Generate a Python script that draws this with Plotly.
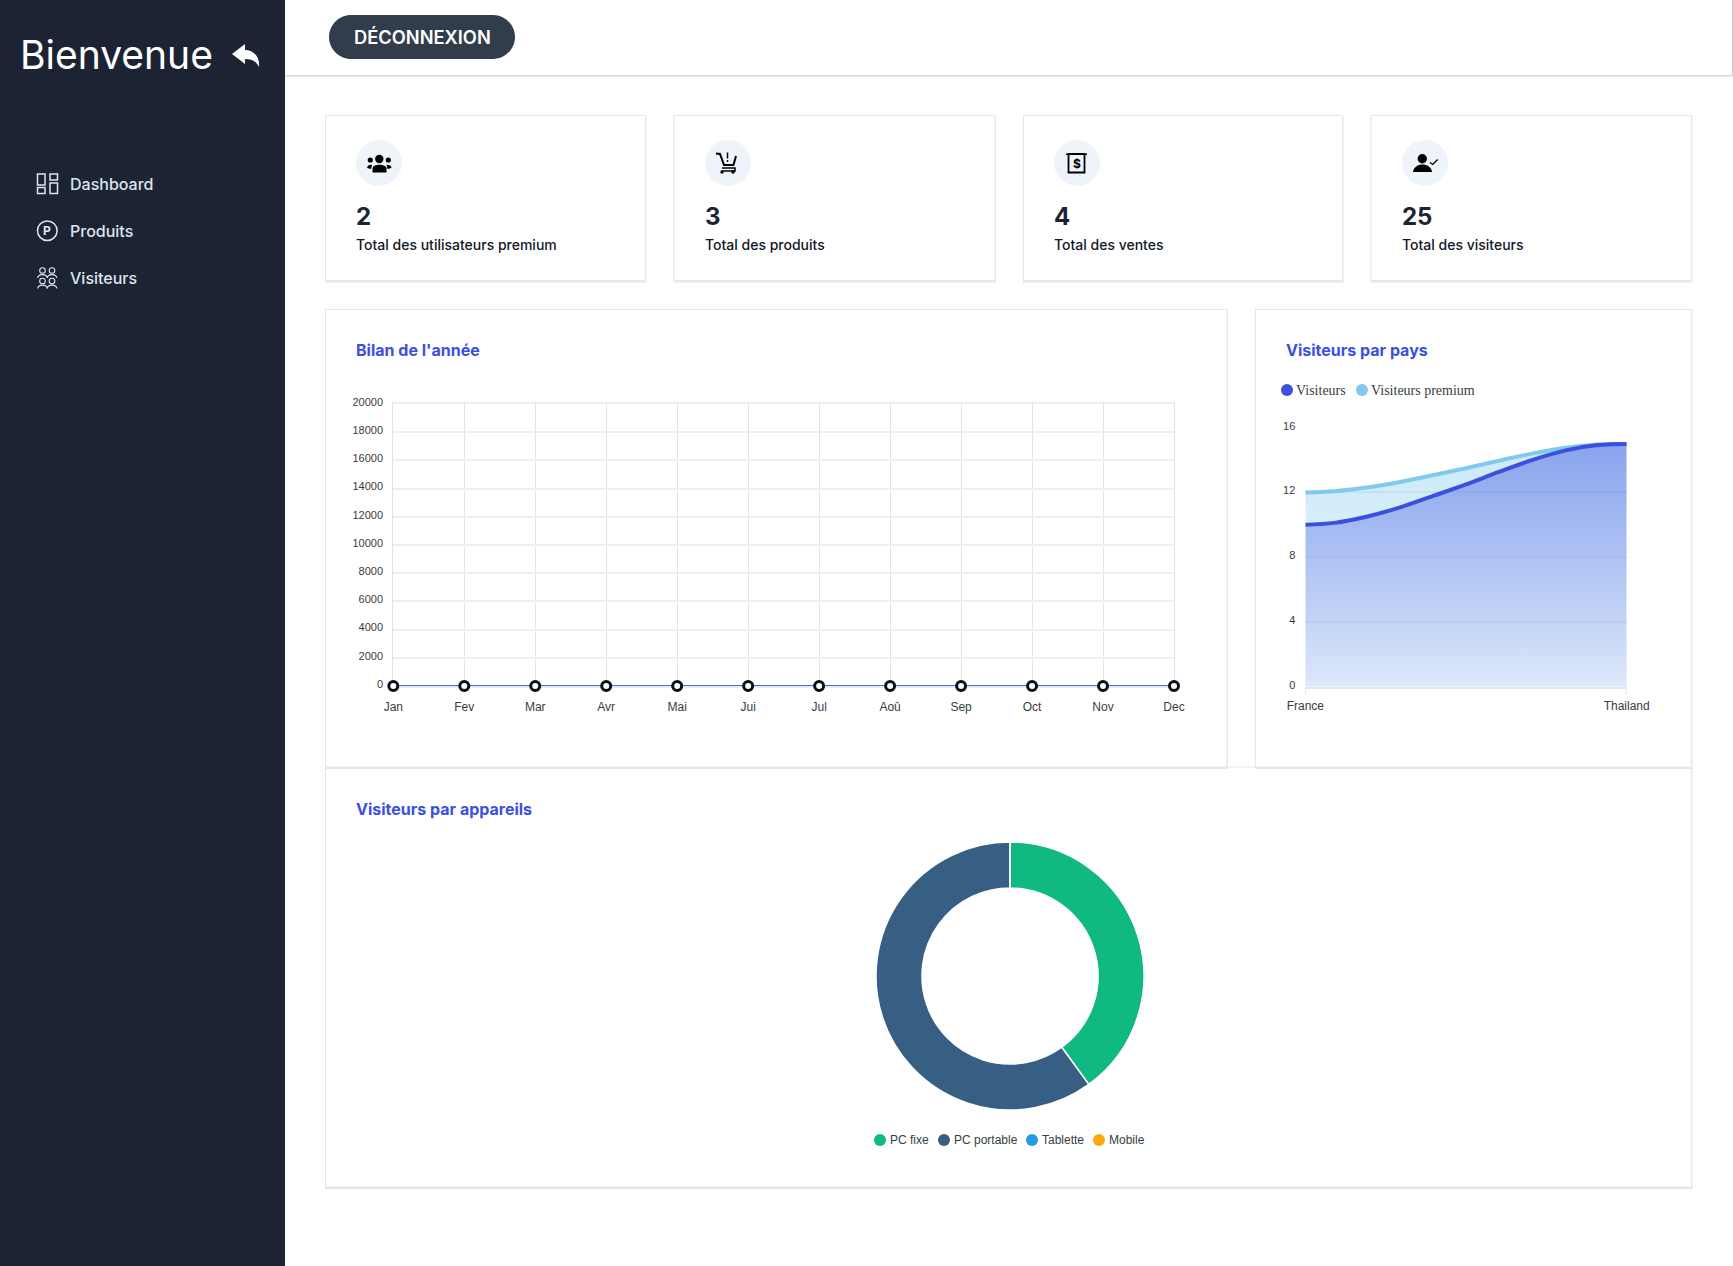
import plotly.graph_objects as go

W, H = 1733, 1266

months = ['Jan', 'Fev', 'Mar', 'Avr', 'Mai', 'Jui', 'Jul', 'Aoû', 'Sep', 'Oct', 'Nov', 'Dec']
bilan = [0, 0, 0, 0, 0, 0, 0, 0, 0, 0, 0, 0]
bilan_ticks = [0, 2000, 4000, 6000, 8000, 10000, 12000, 14000, 16000, 18000, 20000]

pays = ['France', 'Thailand']
pays_ticks = [0, 4, 8, 12, 16]
curve_pos = [0, 0.09, 0.19, 0.295, 0.4, 0.5, 0.6, 0.705, 0.81, 0.91, 1]
visiteurs = [10, 10.12, 10.5, 11.08, 11.8, 12.5, 13.25, 14.0, 14.6, 14.93, 15]
visiteurs_premium = [12, 12.07, 12.3, 12.65, 13.08, 13.5, 13.95, 14.4, 14.76, 14.96, 15]

appareils = ['PC fixe', 'PC portable', 'Tablette', 'Mobile']
appareils_values = [10, 15, 0, 0]

card_values = ['2', '3', '4', '25']
card_labels = ['Total des utilisateurs premium', 'Total des produits', 'Total des ventes', 'Total des visiteurs']
menu = ['Dashboard', 'Produits', 'Visiteurs']

DARK = '#1C2434'
BLUE = '#3C50E0'
SKY = '#80CAEE'
STROKE = '#E2E8F0'
GRAY = '#EFF4FB'
AXIS_TXT = '#373D3F'
DEVICE_COLORS = ['#10B981', '#375E83', '#259AE6', '#FFA70B']


def fx(x):
    return x / W


def fy(y):
    return 1 - y / H


def svg(d):
    # path in page pixels -> paper coords
    out, is_x = [], True
    for tok in d.split():
        if tok.isalpha():
            out.append(tok)
        else:
            out.append(str(fx(float(tok)) if is_x else fy(float(tok))))
            is_x = not is_x
    return ' '.join(out)


shapes = []
notes = []


def rect(x0, y0, x1, y1, fill=None, line=None, width=1):
    shapes.append(dict(type='rect', xref='paper', yref='paper', layer='below', x0=fx(x0), x1=fx(x1), y0=fy(y0), y1=fy(y1),
                       fillcolor=fill or 'rgba(0,0,0,0)', line=dict(color=line or 'rgba(0,0,0,0)', width=width if line else 0)))


def circle(cx, cy, r, fill=None, line=None, width=1):
    shapes.append(dict(type='circle', xref='paper', yref='paper', layer='below', x0=fx(cx - r), x1=fx(cx + r), y0=fy(cy - r), y1=fy(cy + r),
                       fillcolor=fill or 'rgba(0,0,0,0)', line=dict(color=line or 'rgba(0,0,0,0)', width=width if line else 0)))


def path(d, fill=None, line=None, width=1):
    shapes.append(dict(type='path', xref='paper', yref='paper', layer='below', path=svg(d),
                       fillcolor=fill or 'rgba(0,0,0,0)', line=dict(color=line or 'rgba(0,0,0,0)', width=width if line else 0)))


def label(x, y, text, size, color, family='Inter', weight=400, anchor='left'):
    notes.append(dict(xref='paper', yref='paper', x=fx(x), y=fy(y), text=text, showarrow=False, xanchor=anchor,
                      yanchor='middle', borderpad=0, borderwidth=0,
                      font=dict(family=family, size=size, color=color, weight=weight)))


def panel(x0, y0, x1, y1):
    rect(x0 - 0.5, y0 + 1, x1 + 1, y1 + 2, fill='#E4E7EC')
    rect(x0, y0, x1, y1, fill='white', line=STROKE)


# page frame
rect(0, 75, W, 77, fill='#EDEDED')
rect(285, 75, W, 76, fill='#D5D7DB')
rect(0, 0, 285, H, fill=DARK)
rect(W - 1, 0, W, 75, fill='#C8CCD2')

label(19.5, 54.5, 'Bienvenue', 39, 'white', weight=400)
path('M 232 54 L 245 44 L 245 50 C 253 50 260 56 259 67 C 256 61 252 59 245 59 L 245 64 Z', fill='white')

path('M 351 15 L 493 15 C 505 15 515 25 515 37 C 515 49 505 59 493 59 L 351 59 C 339 59 329 49 329 37 C 329 25 339 15 351 15 Z', fill='#313D4A')
label(422, 37, 'DÉCONNEXION', 18.3, 'white', weight=600, anchor='center')

# sidebar
MENU_COLOR = '#DEE4EE'
for name, y in zip(menu, [184, 231, 278]):
    label(69.7, y, name, 16, MENU_COLOR, weight=500)
for box in [(37.5, 174, 45, 185), (50, 174, 57.5, 180), (37.5, 187.5, 45, 193.5), (50, 183, 57.5, 193.5)]:
    rect(*box, line=MENU_COLOR, width=1.5)
circle(47.3, 230.7, 9.8, line=MENU_COLOR, width=1.5)
label(47.3, 231, 'P', 12, MENU_COLOR, weight=700, anchor='center')
for cx, cy in [(42.5, 270.5), (52, 270.5), (42.5, 281), (52, 281)]:
    circle(cx, cy, 2.8, line=MENU_COLOR, width=1.1)
    path(f'M {cx - 5} {cy + 7.5} C {cx - 4} {cy + 3} {cx + 4} {cy + 3} {cx + 5} {cy + 7.5}', line=MENU_COLOR, width=1.1)

# stat cards
card_boxes = [(325.5, 645.5), (674, 995), (1023.5, 1342.5), (1371, 1691.5)]
icon_x = [379, 728, 1077, 1425]
for box, ix, val, txt in zip(card_boxes, icon_x, card_values, card_labels):
    panel(box[0], 115.5, box[1], 280.5)
    circle(ix, 163, 23, fill=GRAY)
    label(ix - 23, 216.5, val, 24, DARK, weight=700)
    label(ix - 23, 245, txt, 14, '#111827', weight=500)

# people icon
circle(379.3, 159, 4.2, fill='black')
circle(370.3, 160, 2.6, fill='black')
circle(388.3, 160, 2.6, fill='black')
path('M 372.5 172.5 L 372.5 168 C 373 163.5 385.5 163.5 386.5 168 L 386.5 172.5 Z', fill='black')
path('M 367 168 C 367 165 371 164 372 165 L 371 169 Z', fill='black')
path('M 391.5 168 C 391.5 165 387.5 164 386.5 165 L 387.5 169 Z', fill='black')
# cart icon
path('M 716 153.5 L 720 154 L 724 165 L 733.5 165 L 736 156', line='black', width=2)
path('M 722 168 L 735 168 L 735 171 L 722 171', line='black', width=1.5)
path('M 727.5 152.5 L 727.5 158.5', line='black', width=1.5)
circle(727.5, 161, 0.9, fill='black')
circle(722, 172, 1.7, fill='black')
circle(733, 172, 1.7, fill='black')
# sales icon
rect(1066, 153.5, 1087, 155, fill='black')
rect(1068.5, 154, 1084.5, 172.5, line='black', width=1.8)
label(1076.5, 163.5, '$', 12, 'black', weight=700, anchor='center')
# verified user icon
circle(1422.3, 158.7, 4.7, fill='black')
path('M 1413 172 C 1414 162 1431 162 1432 172 Z', fill='black')
path('M 1430 162.5 L 1432.7 164.5 L 1437.7 159.5', line='black', width=1.3)

# chart panels, bottom one first so the shadow of the others stays on top
panel(325.5, 767, 1691.5, 1187)
panel(325.5, 309.5, 1227, 767)
panel(1255.5, 309.5, 1691.5, 767)
label(356, 350, "Bilan de l'année", 16, BLUE, weight=700)
label(1286, 350, 'Visiteurs par pays', 16, BLUE, weight=700)
label(356, 809, 'Visiteurs par appareils', 16, BLUE, weight=700)

# legends
for name, cx, tx, color in zip(['Visiteurs', 'Visiteurs premium'], [1287, 1362], [1296, 1371], [BLUE, SKY]):
    circle(cx, 390, 6, fill=color)
    label(tx, 390.5, name, 14, AXIS_TXT, family='Liberation Serif')
for name, cx, color in zip(appareils, [880, 944, 1032, 1099], DEVICE_COLORS):
    circle(cx, 1140, 6, fill=color)
    label(cx + 9.7, 1140, name, 12, AXIS_TXT, family='Liberation Sans')

fig = go.Figure()

fig.add_trace(go.Scatter(
    x=months, y=bilan, mode='lines+markers', xaxis='x', yaxis='y', cliponaxis=False,
    line=dict(color='#3C6CF0', width=2.2),
    marker=dict(size=9, color='white', line=dict(color='#0B0F19', width=3)),
))
fig.add_trace(go.Scatter(
    x=curve_pos, y=visiteurs_premium, mode='lines', xaxis='x2', yaxis='y2', fill='tozeroy', cliponaxis=False,
    line=dict(color=SKY, width=4, shape='spline'),
    fillgradient=dict(type='vertical', colorscale=[[0, 'rgba(128,202,238,0.12)'], [1, 'rgba(128,202,238,0.42)']]),
))
fig.add_trace(go.Scatter(
    x=curve_pos, y=visiteurs, mode='lines', xaxis='x2', yaxis='y2', fill='tozeroy', cliponaxis=False,
    line=dict(color=BLUE, width=4, shape='spline'),
    fillgradient=dict(type='vertical', colorscale=[[0, 'rgba(60,80,224,0.1)'], [1, 'rgba(60,80,224,0.45)']]),
))
fig.add_trace(go.Pie(
    labels=appareils, values=appareils_values, hole=0.657, sort=False, direction='clockwise', rotation=0,
    textinfo='none', marker=dict(colors=DEVICE_COLORS, line=dict(color='white', width=1.5)),
    domain=dict(x=[fx(1010 - 134), fx(1010 + 134)], y=[fy(976 + 134), fy(976 - 134)]),
))

tick_font = dict(family='Liberation Sans', size=11, color=AXIS_TXT)
x_font = dict(family='Liberation Sans', size=12, color=AXIS_TXT)

fig.update_layout(
    template='none',
    width=W, height=H, margin=dict(l=0, r=0, t=0, b=0, pad=0), autosize=False,
    paper_bgcolor='white', plot_bgcolor='rgba(0,0,0,0)', showlegend=False,
    shapes=shapes, annotations=notes,
    xaxis=dict(domain=[fx(393.3), fx(1174)], range=[0, 11], type='category', anchor='y', tickfont=x_font,
               showgrid=True, gridcolor='#E3E3E3', gridwidth=1, zeroline=False, showline=True, mirror=True,
               linecolor='#ECECEC', linewidth=1.5, ticks='', ticklabelstandoff=9, tickangle=0, automargin=False,
               layer='below traces'),
    yaxis=dict(domain=[fy(686), fy(404)], range=[0, 20000], anchor='x', tickvals=bilan_ticks, tickformat='d',
               tickfont=tick_font, showgrid=True, gridcolor='#EFEFEF', gridwidth=1.5, zeroline=False, showline=True,
               mirror=True, linecolor='#E3E3E3', linewidth=1, ticks='', ticklabelstandoff=7, ticklabelshift=-2,
               automargin=False, layer='below traces'),
    xaxis2=dict(domain=[fx(1305.3), fx(1626.7)], range=[0, 1], anchor='y2', tickvals=[0, 1], ticktext=pays,
                tickfont=x_font, showgrid=False, zeroline=False, showline=True, linecolor='#E3E6EC', linewidth=2,
                ticks='outside', ticklen=5, tickcolor='#E3E6EC', tickwidth=1, ticklabelstandoff=2, tickangle=0,
                automargin=False),
    yaxis2=dict(domain=[fy(686.7), fy(427.7)], range=[0, 16], anchor='x2', tickvals=pays_ticks, tickfont=tick_font,
                showgrid=True, gridcolor='#EFEFF2', gridwidth=1.5, zeroline=False, showline=False, ticks='',
                ticklabelstandoff=9, ticklabelshift=-2, automargin=False),
)

fig.write_html('out.html', config=dict(displayModeBar=False),
               post_script="document.body.style.margin='0';document.body.style.overflow='hidden';")
